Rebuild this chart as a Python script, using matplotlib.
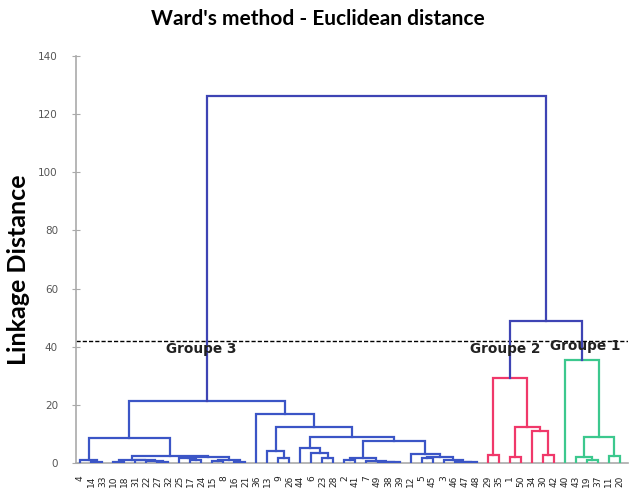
import matplotlib
matplotlib.use("Agg")
import matplotlib.pyplot as plt

# leaf order along the x axis
leaf_order = [4, 14, 33, 10, 18, 31, 22, 27, 32, 25, 17, 24, 15, 8, 16, 21,
              36, 13, 9, 26, 44, 6, 23, 28, 2, 41, 7, 49, 38, 39, 12, 5,
              45, 3, 46, 47, 48,
              29, 35, 1, 50, 34, 30, 42,
              40, 43, 19, 37, 11, 20]

# merges: (left, right, height); ints are leaves, "mN" refers to merge N
group3_merges = [
    (14, 33, 0.5), (4, "m0", 0.9), (10, 18, 0.5), (27, 32, 0.3),
    (22, "m3", 0.6), (31, "m4", 0.9), ("m2", "m5", 1.2), (17, 24, 1.2),
    (25, "m7", 1.6), (15, 8, 0.8), (16, 21, 0.3), ("m9", "m10", 1.0),
    ("m8", "m11", 1.9), ("m6", "m12", 2.4), ("m1", "m13", 8.5),
    (9, 26, 1.6), (13, "m15", 4.1), (23, 28, 1.6), (6, "m17", 3.3),
    (44, "m18", 5.0), (2, 41, 1.0), (38, 39, 0.3), (49, "m21", 0.5),
    (7, "m22", 0.8), ("m20", "m23", 1.6), (5, 45, 1.8), (47, 48, 0.2),
    (46, "m26", 0.5), (3, "m27", 0.9), ("m25", "m28", 2.2), (12, "m29", 3.0),
    ("m24", "m30", 7.5), ("m19", "m31", 9.0), ("m16", "m32", 12.5),
    (36, "m33", 16.7), ("m14", "m34", 21.3),
]
group2_merges = [
    (29, 35, 2.7), (1, 50, 2.2), (30, 42, 2.7), (34, "m38", 11.0),
    ("m37", "m39", 12.5), ("m36", "m40", 29.2),
]
group1_merges = [
    (19, 37, 1.2), (43, "m42", 2.0), (11, 20, 2.5), ("m43", "m44", 9.0),
    (40, "m45", 35.6),
]
top_merges = [("m41", "m46", 48.8), ("m35", "m47", 126.2)]

cut_height = 42
group_names = ["Groupe 3", "Groupe 2", "Groupe 1"]

colors = {"g3": "#3b55c6", "g2": "#f0386a", "g1": "#3cc88e", "top": "#3e44b4"}

merges = []
for m in group3_merges:
    merges.append((m, colors["g3"]))
for m in group2_merges:
    merges.append((m, colors["g2"]))
for m in group1_merges:
    merges.append((m, colors["g1"]))
for m in top_merges:
    merges.append((m, colors["top"]))

fig = plt.figure(figsize=(6.3, 4.96), dpi=100)
ax = fig.add_axes([0.1206, 0.0665, 0.876, 0.8206])

pos = {leaf: i for i, leaf in enumerate(leaf_order)}
node_x = {}
node_y = {}


def get_xy(node):
    if isinstance(node, str):
        return node_x[node], node_y[node]
    return pos[node], 0.0


for k, ((a, b, h), c) in enumerate(merges):
    xa, ya = get_xy(a)
    xb, yb = get_xy(b)
    ax.plot([xa, xa, xb, xb], [ya, h, h, yb], color=c, lw=1.6,
            solid_joinstyle="miter", zorder=3)
    node_x[f"m{k}"] = (xa + xb) / 2
    node_y[f"m{k}"] = h

ax.axhline(cut_height, color="black", lw=1.0, ls=(0, (3, 1.5)), zorder=2)

ax.text(11, 39.3, group_names[0], ha="center", va="center",
        fontsize=9.8, fontweight="bold", color="#222222")
ax.text(38.6, 39.3, group_names[1], ha="center", va="center",
        fontsize=9.8, fontweight="bold", color="#222222")
ax.text(45.9, 40.3, group_names[2], ha="center", va="center",
        fontsize=9.8, fontweight="bold", color="#222222")

ax.set_xlim(-0.4, 49.75)
ax.set_ylim(0, 140)
ax.set_yticks(range(0, 141, 20))
ax.set_xticks(range(len(leaf_order)))
ax.set_xticklabels([str(v) for v in leaf_order], rotation=90, fontsize=6.5)
ax.tick_params(axis="x", length=0, pad=9, labelcolor="#222222")
ax.tick_params(axis="y", direction="inout", length=6, color="#aaaaaa",
               labelsize=7.5, labelcolor="#555555", pad=10)
for side in ["top", "right"]:
    ax.spines[side].set_visible(False)
for side in ["left", "bottom"]:
    ax.spines[side].set_color("#aaaaaa")
    ax.spines[side].set_linewidth(1.2)

fig.text(0.505, 0.962, "Ward's method - Euclidean distance", ha="center",
         va="center", fontsize=15, fontweight="bold", family="Lato")
fig.text(0.029, 0.457, "Linkage Distance", rotation=90, ha="center",
         va="center", fontsize=18, fontweight="bold", family="Lato")

fig.savefig("out.png", dpi=100)
